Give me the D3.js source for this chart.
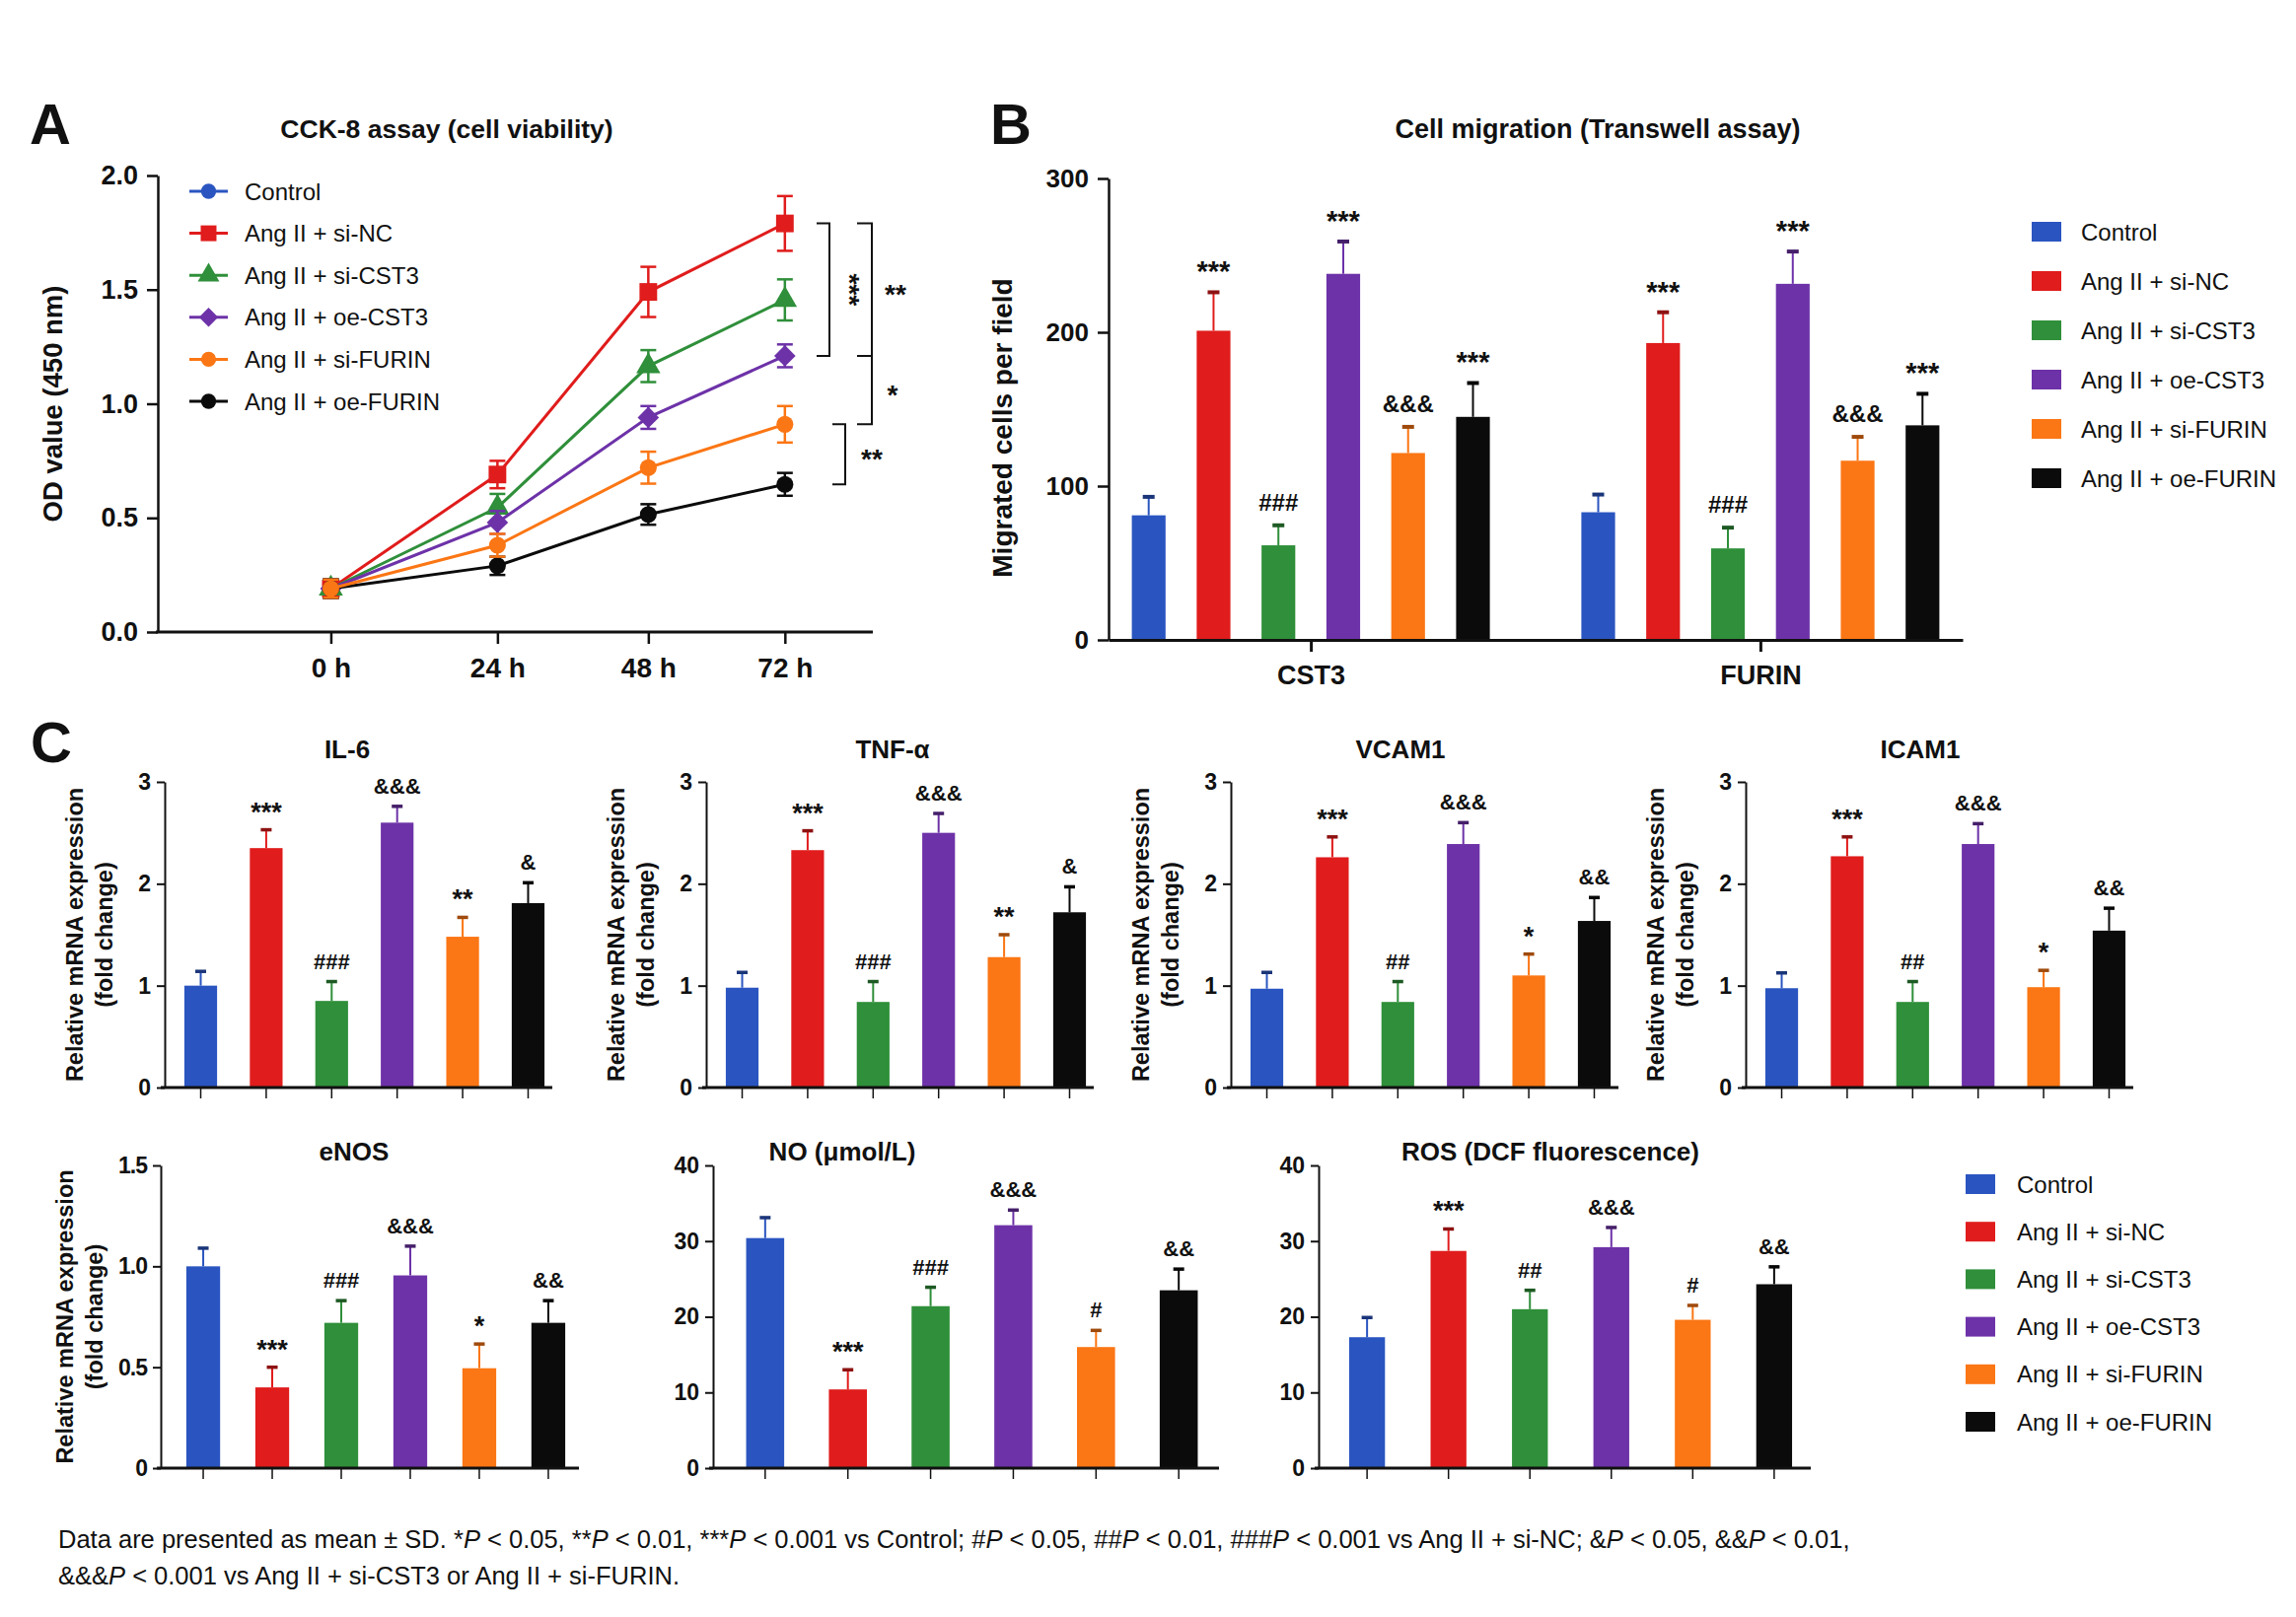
<!DOCTYPE html>
<html><head><meta charset="utf-8">
<script src="https://cdn.jsdelivr.net/npm/d3@7/dist/d3.min.js"></script>
<style>body{margin:0;background:#fff;}</style>
</head><body>
<script>
// ---------------- DATA ----------------
const groups = ["Control","Ang II + si-NC","Ang II + si-CST3","Ang II + oe-CST3","Ang II + si-FURIN","Ang II + oe-FURIN"];
const colors = ["#2a55c0","#e01c1c","#2f8f3a","#6d32a8","#fb7614","#0b0b0b"];

// Panel A: CCK-8
const timeLabels = ["0 h","24 h","48 h","72 h"];
const timeHours = [0,24,48,72];
const ccTicks = [0,0.5,1.0,1.5,2.0];
const ccMean = [
  [0.19,null,null,null],
  [0.19,0.69,1.49,1.79],
  [0.19,0.545,1.165,1.455],
  [0.19,0.48,0.94,1.21],
  [0.19,0.38,0.72,0.91],
  [0.19,0.29,0.515,0.647]
];
const ccSD = [
  [0.04,null,null,null],
  [0.04,0.06,0.11,0.12],
  [0.04,0.06,0.07,0.09],
  [0.04,0.05,0.05,0.05],
  [0.04,0.05,0.07,0.08],
  [0.04,0.04,0.045,0.05]
];
const ccBrackets = [
  {a:1,b:3,label:"***"},
  {a:1,b:3,label:"**"},
  {a:3,b:4,label:"*"},
  {a:4,b:5,label:"**"}
];

// Panel B: Transwell
const migGenes = ["CST3","FURIN"];
const migTicks = [0,100,200,300];
const migMean = [
  [81,201,61.5,238,121.5,145],
  [83,193,59.5,231.5,116.5,139.5]
];
const migSD = [
  [12,25,13,21,17,22],
  [11.5,20,13.5,21,15.5,20.5]
];
const migSig = [
  ["","***","###","***","&&&","***"],
  ["","***","###","***","&&&","***"]
];

// Panel C
const cTitles = ["IL-6","TNF-α","VCAM1","ICAM1","eNOS","NO (μmol/L)","ROS (DCF fluorescence)"];
const foldTicks = [0,1,2,3];
const enosTicks = [0,0.5,1.0,1.5];
const concTicks = [0,10,20,30,40];
const il6Mean  = [1.00,2.35,0.85,2.60,1.48,1.81];
const il6SD    = [0.14,0.18,0.19,0.16,0.19,0.20];
const il6Sig   = ["","***","###","&&&","**","&"];
const tnfMean  = [0.98,2.33,0.84,2.50,1.28,1.72];
const tnfSD    = [0.15,0.19,0.20,0.19,0.22,0.25];
const tnfSig   = ["","***","###","&&&","**","&"];
const vcamMean = [0.97,2.26,0.84,2.39,1.10,1.635];
const vcamSD   = [0.16,0.20,0.20,0.21,0.21,0.23];
const vcamSig  = ["","***","##","&&&","*","&&"];
const icamMean = [0.975,2.27,0.84,2.39,0.985,1.54];
const icamSD   = [0.15,0.19,0.20,0.20,0.165,0.22];
const icamSig  = ["","***","##","&&&","*","&&"];
const enosMean = [1.00,0.40,0.72,0.955,0.495,0.72];
const enosSD   = [0.09,0.10,0.11,0.145,0.12,0.11];
const enosSig  = ["","***","###","&&&","*","&&"];
const noMean   = [30.4,10.4,21.4,32.1,16.0,23.5];
const noSD     = [2.7,2.6,2.5,2.0,2.2,2.8];
const noSig    = ["","***","###","&&&","#","&&"];
const rosMean  = [17.3,28.7,21.0,29.2,19.6,24.3];
const rosSD    = [2.6,2.9,2.5,2.6,1.9,2.3];
const rosSig   = ["","***","##","&&&","#","&&"];

const footLines = [
  "Data are presented as mean ± SD. *P < 0.05, **P < 0.01, ***P < 0.001 vs Control; #P < 0.05, ##P < 0.01, ###P < 0.001 vs Ang II + si-NC; &P < 0.05, &&P < 0.01,",
  "&&&P < 0.001 vs Ang II + si-CST3 or Ang II + si-FURIN."
];

// ---------------- DRAWING ----------------
const FONT = '"Liberation Sans", Arial, Helvetica, sans-serif';
const INK = "#111";
const W = 2328, H = 1640;
const svg = d3.select("body").append("svg").attr("width",W).attr("height",H)
  .style("font-family",FONT);
svg.append("rect").attr("width",W).attr("height",H).attr("fill","#fff");

function styleAxis(sel, fs, weight, sw){
  sel.attr("font-family",FONT).attr("font-size",fs);
  sel.selectAll("text").attr("font-weight",weight).attr("fill",INK);
  sel.selectAll("line").attr("stroke",INK).attr("stroke-width",sw);
  sel.selectAll("path.domain").attr("stroke",INK).attr("stroke-width",sw);
}
function darker(c){ return d3.color(c).darker(1.3).formatHex(); }
function txt(g,x,y,s,fs,weight,anchor){
  return g.append("text").attr("x",x).attr("y",y).text(s)
    .attr("font-size",fs).attr("font-weight",weight||"normal")
    .attr("text-anchor",anchor||"start").attr("fill",INK);
}
// significance label: asterisks drawn a little larger (heavier stars in the reference)
function sig(g,x,y,s,fs){
  const star = /^\*+$/.test(s);
  return txt(g,x,star ? y+4 : y,s,star ? fs+5 : fs,"bold","middle");
}

// Panel letters
txt(svg,30,146,"A",58,"bold");
txt(svg,1004,146,"B",58,"bold");
txt(svg,31,773,"C",58,"bold");

// ===== Panel A =====
(function(){
  const L = {x0:160,x1:885,yTop:178,yBot:641};
  const timeFrac = [0.242,0.475,0.686,0.877];
  const g = svg.append("g");
  const x = d3.scaleLinear().domain(timeHours).range(timeFrac.map(f=>L.x0+f*(L.x1-L.x0)));
  const y = d3.scaleLinear().domain([0,2]).range([L.yBot,L.yTop]);

  txt(g,453,140,"CCK-8 assay (cell viability)",26.5,"bold","middle");

  g.append("g").attr("transform",`translate(${L.x0},0)`)
    .call(d3.axisLeft(y).tickValues(ccTicks).tickFormat(d3.format(".1f")).tickSize(11).tickPadding(9).tickSizeOuter(0))
    .call(styleAxis,27,"bold",2.5);
  const xa = g.append("g").attr("transform",`translate(0,${L.yBot})`)
    .call(d3.axisBottom(x).tickValues(timeHours).tickFormat((d,i)=>timeLabels[i]).tickSize(12).tickPadding(14))
    .call(styleAxis,28,"bold",2.5);
  xa.select(".domain").remove();
  g.append("line").attr("x1",L.x0-2).attr("x2",L.x1).attr("y1",L.yBot).attr("y2",L.yBot)
    .attr("stroke",INK).attr("stroke-width",3);

  g.append("text").attr("transform",`translate(53,${(L.yTop+L.yBot)/2}) rotate(-90)`)
    .attr("text-anchor","middle").attr("dominant-baseline","central")
    .attr("font-size",27.5).attr("font-weight","bold").attr("fill",INK).text("OD value (450 nm)");

  const symbols = [d3.symbolCircle,d3.symbolSquare,d3.symbolTriangle,d3.symbolDiamond2,d3.symbolCircle,d3.symbolCircle];
  const symSize = [230,320,260,300,230,230];
  const line = d3.line().x(d=>x(d.h)).y(d=>y(d.v));
  const order = [0,1,2,3,5,4];
  order.forEach(i=>{
    const pts = timeHours.map((h,j)=>({h,v:ccMean[i][j],sd:ccSD[i][j]})).filter(d=>d.v!=null);
    const sg = g.append("g");
    sg.append("path").datum(pts).attr("d",line).attr("fill","none")
      .attr("stroke",colors[i]).attr("stroke-width",3);
    sg.selectAll("line.eb").data(pts).join("line").attr("class","eb")
      .attr("x1",d=>x(d.h)).attr("x2",d=>x(d.h))
      .attr("y1",d=>y(d.v-d.sd)).attr("y2",d=>y(d.v+d.sd))
      .attr("stroke",colors[i]).attr("stroke-width",2.5);
    [-1,1].forEach(s=>{
      sg.selectAll("line.cap"+s).data(pts).join("line").attr("class","cap"+s)
        .attr("x1",d=>x(d.h)-8).attr("x2",d=>x(d.h)+8)
        .attr("y1",d=>y(d.v+s*d.sd)).attr("y2",d=>y(d.v+s*d.sd))
        .attr("stroke",colors[i]).attr("stroke-width",2.5);
    });
    sg.selectAll("path.mk").data(pts).join("path").attr("class","mk")
      .attr("transform",d=>`translate(${x(d.h)},${y(d.v)})`)
      .attr("d",d3.symbol(symbols[i],symSize[i])()).attr("fill",colors[i]);
  });

  // legend
  const lg = g.append("g");
  groups.forEach((name,i)=>{
    const yy = 194 + i*42.6;
    lg.append("line").attr("x1",192).attr("x2",231).attr("y1",yy).attr("y2",yy)
      .attr("stroke",colors[i]).attr("stroke-width",3);
    lg.append("path").attr("transform",`translate(211.5,${yy})`)
      .attr("d",d3.symbol(symbols[i],symSize[i]*0.8)()).attr("fill",colors[i]);
    txt(lg,248,yy,name,24,"normal").attr("dominant-baseline","central");
  });

  // significance brackets at 72 h
  const bl = [
    {x:841,t:13,lx:852,rot:true},
    {x:884,t:15,lx:908},
    {x:884,t:15,lx:905},
    {x:857,t:13,lx:884}
  ];
  ccBrackets.forEach((b,k)=>{
    const y1 = y(ccMean[b.a][3]), y2 = y(ccMean[b.b][3]);
    const p = bl[k];
    g.append("path").attr("d",`M${p.x-p.t},${y1}H${p.x}V${y2}H${p.x-p.t}`)
      .attr("fill","none").attr("stroke",INK).attr("stroke-width",2);
    const ym = (y1+y2)/2;
    if(p.rot){
      g.append("text").attr("transform",`translate(${p.lx},${ym}) rotate(90)`)
        .attr("text-anchor","middle").attr("font-size",28).attr("font-weight","bold")
        .attr("fill",INK).text(b.label);
    } else {
      txt(g,p.lx,ym+14,b.label,28,"bold","middle");
    }
  });
})();

// ===== Panel B =====
(function(){
  const L = {x0:1124,x1:1990,yTop:181,yBot:649};
  const g = svg.append("g");
  const x = d3.scalePoint().domain(migGenes).range([L.x0,L.x1]).padding(0.45);
  const xi = d3.scaleBand().domain(d3.range(groups.length)).range([-181.5,181.5]).paddingInner(0.48);
  const y = d3.scaleLinear().domain([0,300]).range([L.yBot,L.yTop]);

  txt(g,1620,140,"Cell migration (Transwell assay)",27,"bold","middle");

  g.append("g").attr("transform",`translate(${L.x0},0)`)
    .call(d3.axisLeft(y).tickValues(migTicks).tickSize(11).tickPadding(9).tickSizeOuter(0))
    .call(styleAxis,26,"bold",2.5);
  g.append("text").attr("transform",`translate(1016,434) rotate(-90)`)
    .attr("text-anchor","middle").attr("dominant-baseline","central")
    .attr("font-size",28).attr("font-weight","bold").attr("fill",INK).text("Migrated cells per field");

  migGenes.forEach((gene,gi)=>{
    const cx0 = x(gene);
    groups.forEach((_,i)=>{
      const cx = cx0 + xi(i) + xi.bandwidth()/2;
      const m = migMean[gi][i], sd = migSD[gi][i];
      g.append("rect").attr("x",cx0+xi(i)).attr("width",xi.bandwidth())
        .attr("y",y(m)).attr("height",y(0)-y(m)).attr("fill",colors[i]);
      g.append("line").attr("x1",cx).attr("x2",cx).attr("y1",y(m)).attr("y2",y(m+sd))
        .attr("stroke",colors[i]).attr("stroke-width",2);
      g.append("line").attr("x1",cx-6).attr("x2",cx+6).attr("y1",y(m+sd)).attr("y2",y(m+sd))
        .attr("stroke",darker(colors[i])).attr("stroke-width",4);
      if(migSig[gi][i]) sig(g,cx,y(m+sd)-15,migSig[gi][i],24);
    });
  });

  g.append("g").attr("transform",`translate(0,${L.yBot})`)
    .call(d3.axisBottom(x).tickSize(12).tickPadding(14).tickSizeOuter(0))
    .call(styleAxis,27,"bold",3);

  const lg = g.append("g");
  groups.forEach((name,i)=>{
    const yy = 235 + i*50;
    lg.append("rect").attr("x",2060).attr("y",yy-10).attr("width",30).attr("height",20).attr("fill",colors[i]);
    txt(lg,2110,yy,name,24,"normal").attr("dominant-baseline","central");
  });
})();

// ===== Panel C =====
const cMeans = [il6Mean,tnfMean,vcamMean,icamMean,enosMean,noMean,rosMean];
const cSDs   = [il6SD,tnfSD,vcamSD,icamSD,enosSD,noSD,rosSD];
const cSigs  = [il6Sig,tnfSig,vcamSig,icamSig,enosSig,noSig,rosSig];
const cTickSets = [foldTicks,foldTicks,foldTicks,foldTicks,enosTicks,concTicks,concTicks];
const cLayout = [
  {x0:167, w:405,yTop:793, yBot:1103,pi:0.5, po:0.3,  tx:352, lab:-91},
  {x0:716, w:405,yTop:793, yBot:1103,pi:0.5, po:0.3,  tx:905, lab:-91},
  {x0:1248,w:405,yTop:793, yBot:1103,pi:0.5, po:0.3,  tx:1420,lab:-91},
  {x0:1770,w:405,yTop:793, yBot:1103,pi:0.5, po:0.3,  tx:1947,lab:-91},
  {x0:163, w:436,yTop:1182,yBot:1489,pi:0.51,po:0.37, tx:359, lab:-97},
  {x0:723, w:525,yTop:1182,yBot:1489,pi:0.54,po:0.4,  tx:854, lab:null},
  {x0:1337,w:511,yTop:1182,yBot:1489,pi:0.56,po:0.375,tx:1572,lab:null}
];
cTitles.forEach((title,k)=>{
  const L = cLayout[k];
  const ticks = cTickSets[k];
  const g = svg.append("g");
  const x = d3.scaleBand().domain(d3.range(groups.length)).range([L.x0,L.x0+L.w])
    .paddingInner(L.pi).paddingOuter(L.po);
  const y = d3.scaleLinear().domain([0,d3.max(ticks)]).range([L.yBot,L.yTop]);
  const fmt = k===4 ? (d=> d===0 ? "0" : d3.format(".1f")(d)) : d3.format("d");

  txt(g,L.tx,L.yTop-24+(k>=4?19:0),title,26,"bold","middle");

  const ya = g.append("g").attr("transform",`translate(${L.x0},0)`)
    .call(d3.axisLeft(y).tickValues(ticks).tickFormat(fmt).tickSize(8).tickPadding(6).tickSizeOuter(0))
    .call(styleAxis,23,"bold",2);
  if(k===4) ya.selectAll("text").attr("letter-spacing",-1);

  if(L.lab!==null){
    const cy = (L.yTop+L.yBot)/2;
    ["Relative mRNA expression","(fold change)"].forEach((s,j)=>{
      g.append("text").attr("transform",`translate(${L.x0+L.lab+j*30},${cy}) rotate(-90)`)
        .attr("text-anchor","middle").attr("dominant-baseline","central")
        .attr("font-size",23.5).attr("font-weight","bold").attr("fill",INK).text(s);
    });
  }

  groups.forEach((_,i)=>{
    const m = cMeans[k][i], sd = cSDs[k][i];
    const cx = x(i) + x.bandwidth()/2;
    g.append("rect").attr("x",x(i)).attr("width",x.bandwidth())
      .attr("y",y(m)).attr("height",y(0)-y(m)).attr("fill",colors[i]);
    g.append("line").attr("x1",cx).attr("x2",cx).attr("y1",y(m)).attr("y2",y(m+sd))
      .attr("stroke",colors[i]).attr("stroke-width",2);
    g.append("line").attr("x1",cx-5.5).attr("x2",cx+5.5).attr("y1",y(m+sd)).attr("y2",y(m+sd))
      .attr("stroke",darker(colors[i])).attr("stroke-width",3.5);
    if(cSigs[k][i]) sig(g,cx,y(m+sd)-13,cSigs[k][i],22);
  });

  const xa = g.append("g").attr("transform",`translate(0,${L.yBot})`)
    .call(d3.axisBottom(x).tickSize(11).tickFormat("").tickSizeOuter(0))
    .call(styleAxis,10,"normal",1.5);
  xa.select(".domain").remove();
  g.append("line").attr("x1",L.x0-4).attr("x2",L.x0+L.w-12).attr("y1",L.yBot).attr("y2",L.yBot)
    .attr("stroke",INK).attr("stroke-width",3);
});

// bottom legend
(function(){
  const lg = svg.append("g");
  groups.forEach((name,i)=>{
    const yy = 1201 + i*48.2;
    lg.append("rect").attr("x",1993).attr("y",yy-10).attr("width",30).attr("height",20).attr("fill",colors[i]);
    txt(lg,2045,yy,name,24,"normal").attr("dominant-baseline","central");
  });
})();

// footnote
footLines.forEach((line,li)=>{
  const t = svg.append("text").attr("x",59).attr("y",1570+li*37)
    .attr("font-size",25.5).attr("fill",INK);
  const parts = line.split("P <");
  parts.forEach((p,pi)=>{
    if(pi>0){
      t.append("tspan").attr("font-style","italic").text("P");
      t.append("tspan").text(" <"+p);
    } else t.append("tspan").text(p);
  });
});
</script>
</body></html>
